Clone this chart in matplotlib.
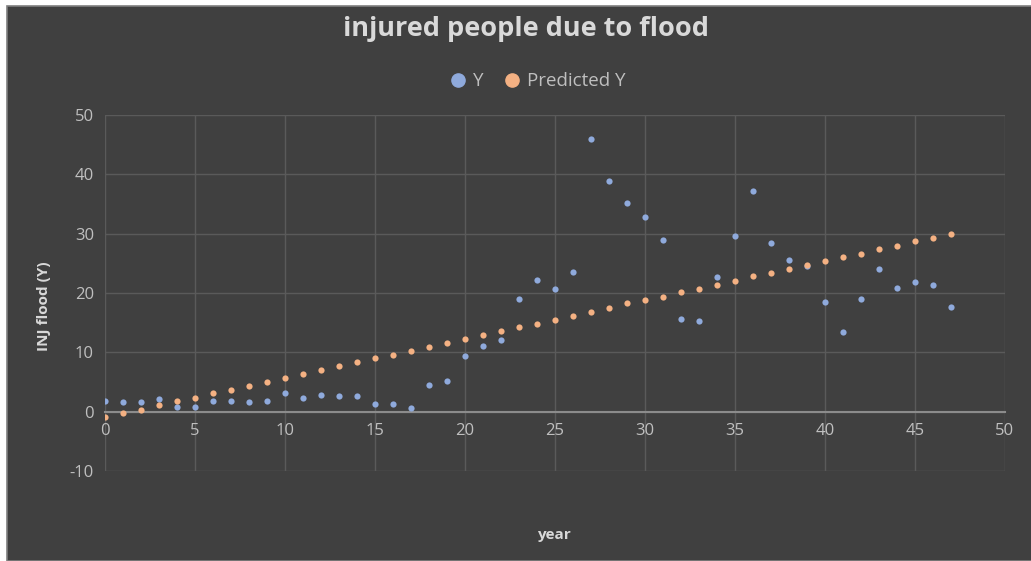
import numpy as np
import matplotlib.pyplot as plt
from matplotlib.patches import Rectangle
from matplotlib.lines import Line2D

plt.rcParams['font.family'] = ['Open Sans', 'DejaVu Sans']
plt.rcParams['axes.unicode_minus'] = False

# injured people per year and the fitted trend
year = np.arange(0, 48)
y_obs = [1.8, 1.6, 1.6, 2.1, 0.85, 0.85, 1.8, 1.8, 1.6, 1.8,
         3.2, 2.25, 2.75, 2.65, 2.65, 1.25, 1.25, 0.6, 4.5, 5.2,
         9.4, 11.0, 12.15, 19.0, 22.2, 20.6, 23.6, 46.0, 38.85, 35.25,
         32.8, 29.0, 15.6, 15.25, 22.65, 29.6, 37.2, 28.4, 25.6, 24.5,
         18.45, 13.4, 19.0, 24.0, 20.8, 21.9, 21.3, 17.6]
y_pred = [-0.95, -0.15, 0.35, 1.07, 1.75, 2.36, 3.1, 3.7, 4.4, 5.0,
          5.7, 6.35, 6.95, 7.65, 8.3, 9.05, 9.6, 10.3, 10.9, 11.5,
          12.2, 12.9, 13.65, 14.2, 14.85, 15.5, 16.1, 16.75, 17.5, 18.3,
          18.85, 19.4, 20.1, 20.75, 21.35, 22.1, 22.8, 23.45, 24.05, 24.7,
          25.35, 26.0, 26.65, 27.4, 28.0, 28.7, 29.3, 29.95]

bg = '#404040'
txt = '#d9d9d9'
blue = '#8faadc'
orange = '#f4b183'

fig = plt.figure(figsize=(10.31, 5.61), dpi=100, facecolor='white')
fig.patches.append(Rectangle((7 / 1031, 0), 1, 1 - 6 / 561, transform=fig.transFigure,
                             facecolor=bg, edgecolor='#7f7f7f', linewidth=1.2,
                             zorder=-10))

ax = fig.add_axes([105 / 1031, 1 - 471 / 561, 900 / 1031, 356 / 561])
ax.set_facecolor(bg)
ax.set_xlim(0, 50)
ax.set_ylim(-10, 50)
ax.set_xticks(np.arange(0, 51, 5))
ax.set_yticks(np.arange(-10, 51, 10))
ax.grid(True, color='#5a5a5a', linewidth=1)
ax.set_axisbelow(True)
for s in ['top', 'right', 'left']:
    ax.spines[s].set_visible(False)
ax.spines['bottom'].set_position(('data', 0))
ax.spines['bottom'].set_color('#8c8c8c')
ax.spines['bottom'].set_linewidth(1.5)
ax.tick_params(length=0, colors='#bfbfbf', labelsize=12)
ax.tick_params(axis='x', pad=8)
ax.tick_params(axis='y', pad=8)

ax.scatter(year, y_obs, s=20, color=blue, zorder=3, linewidths=0)
ax.scatter(year, y_pred, s=20, color=orange, zorder=3, linewidths=0)

fig.text(0.51, 0.948, 'injured people due to flood', ha='center', va='center',
         fontsize=19.5, fontweight='bold', color=txt)
fig.text(0.537, 0.047, 'year', ha='center', va='center', fontsize=11,
         fontweight='bold', color=txt)
fig.text(0.043, 0.455, 'INJ flood (Y)', ha='center', va='center', rotation=90,
         fontsize=11, fontweight='bold', color=txt)

handles = [Line2D([], [], marker='o', linestyle='', markersize=9.5, color=blue,
                  label='Y'),
           Line2D([], [], marker='o', linestyle='', markersize=9.5, color=orange,
                  label='Predicted Y')]
fig.legend(handles=handles, loc='center', bbox_to_anchor=(0.521, 0.855), ncol=2,
           frameon=False, fontsize=13.5, labelcolor='#bfbfbf', handlelength=1.0,
           handletextpad=0.3, columnspacing=1.0)

fig.savefig('out.png', dpi=100, facecolor=fig.get_facecolor())
